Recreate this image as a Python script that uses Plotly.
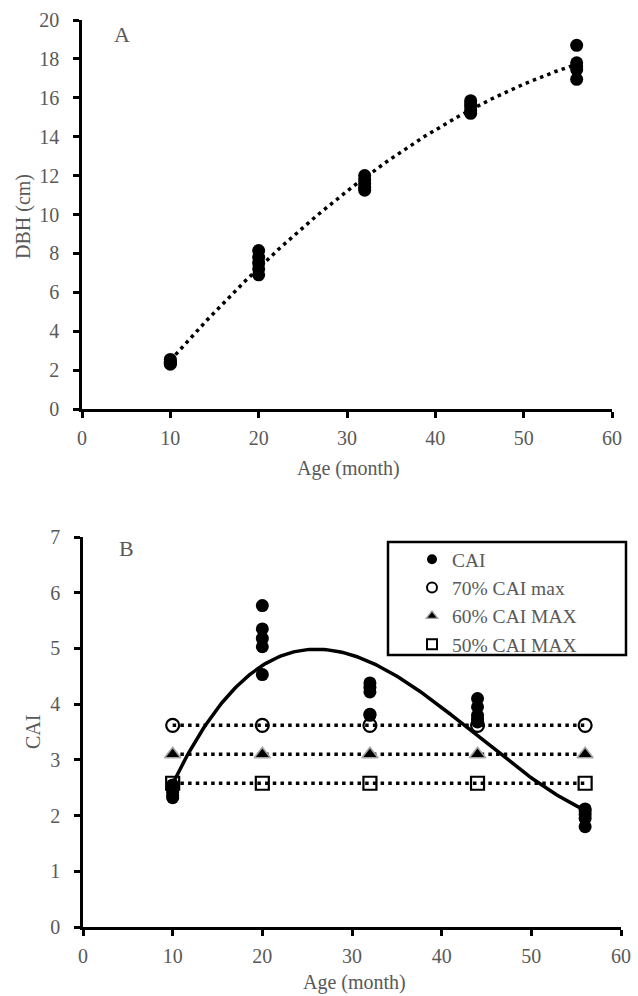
import numpy as np
import plotly.graph_objects as go

# ---------------- data ----------------
ages = [10, 20, 32, 44, 56]

dbh_age = [10]*5 + [20]*5 + [32]*5 + [44]*5 + [56]*5
dbh_vals = [2.30, 2.35, 2.40, 2.45, 2.55,
            6.90, 7.20, 7.50, 7.80, 8.15,
            11.25, 11.40, 11.60, 11.80, 12.00,
            15.20, 15.35, 15.55, 15.70, 15.85,
            16.95, 17.45, 17.60, 17.80, 18.70]

cai_age = [10]*5 + [20]*5 + [32]*5 + [44]*5 + [56]*5
cai_vals = [2.32, 2.36, 2.42, 2.48, 2.55,
            4.53, 5.03, 5.18, 5.35, 5.77,
            3.80, 3.82, 4.22, 4.30, 4.38,
            3.68, 3.73, 3.80, 3.95, 4.10,
            1.80, 1.95, 2.02, 2.08, 2.12]

cai70 = [3.62, 3.62, 3.62, 3.62, 3.62]
cai60 = [3.10, 3.10, 3.10, 3.10, 3.10]
cai50 = [2.58, 2.58, 2.58, 2.58, 2.58]

legend_names = ["CAI", "70% CAI max", "60% CAI MAX", "50% CAI MAX"]

x_ticks = [0, 10, 20, 30, 40, 50, 60]
yA_ticks = [0, 2, 4, 6, 8, 10, 12, 14, 16, 18, 20]
yB_ticks = [0, 1, 2, 3, 4, 5, 6, 7]

# trend lines (least squares, as in the spreadsheet trendlines)
pA = np.polyfit(dbh_age, dbh_vals, 2)
pB = np.polyfit(cai_age, cai_vals, 3)
xs = np.linspace(10, 56, 200)

FONT = "Liberation Serif, Times New Roman, serif"
GRAY = "#595959"
DOT = dict(color="black", width=3.5, dash="3.5px,4.2px")

M_CAI = dict(color="black", size=13)
M_70 = dict(symbol="circle-open", size=13, color="black", line=dict(width=2.2, color="black"))
M_60 = dict(symbol="triangle-up", size=14, color="black", line=dict(width=1.6, color="#a6a6a6"))
M_50 = dict(symbol="square-open", size=13, color="black", line=dict(width=2.2, color="black"))

fig = go.Figure()

# ---- panel A ----
fig.add_trace(go.Scatter(x=dbh_age, y=dbh_vals, mode="markers", marker=M_CAI,
                         xaxis="x", yaxis="y", showlegend=False))
fig.add_trace(go.Scatter(x=xs, y=np.polyval(pA, xs), mode="lines", line=DOT,
                         xaxis="x", yaxis="y", showlegend=False))

# ---- panel B ----
for vals in (cai70, cai60, cai50):
    fig.add_trace(go.Scatter(x=ages, y=vals, mode="lines", line=DOT,
                             xaxis="x2", yaxis="y2", showlegend=False))
for vals, mk in ((cai70, M_70), (cai60, M_60), (cai50, M_50)):
    fig.add_trace(go.Scatter(x=ages, y=vals, mode="markers", marker=mk,
                             xaxis="x2", yaxis="y2", showlegend=False))
fig.add_trace(go.Scatter(x=cai_age, y=cai_vals, mode="markers", marker=M_CAI,
                         xaxis="x2", yaxis="y2", showlegend=False))
fig.add_trace(go.Scatter(x=xs, y=np.polyval(pB, xs), mode="lines",
                         line=dict(color="black", width=3.5),
                         xaxis="x2", yaxis="y2", showlegend=False))

# legend entries (marker only, smaller symbols as in the reference legend)
leg_markers = [
    dict(color="black", size=10),
    dict(symbol="circle-open", size=10, color="black", line=dict(width=2, color="black")),
    dict(symbol="triangle-up", size=10, color="black", line=dict(width=1.4, color="#a6a6a6")),
    dict(symbol="square-open", size=10, color="black", line=dict(width=2, color="black")),
]
for i, (nm, mk) in enumerate(zip(legend_names, leg_markers)):
    fig.add_trace(go.Scatter(x=[None], y=[None], mode="markers", name=nm, marker=mk,
                             xaxis="x2", yaxis="y2", showlegend=True, legendrank=i + 1))

W, H = 638, 996
axcommon = dict(showgrid=False, zeroline=False, showline=True, linecolor="black",
                linewidth=2.5, ticks="outside", ticklen=6, tickwidth=2.5,
                tickcolor="black", tickfont=dict(family=FONT, size=20, color=GRAY),
                fixedrange=True, automargin=False)

def ann(text, x, y, size=20, angle=0):
    return dict(text=text, x=x/W, y=1-y/H, xref="paper", yref="paper", showarrow=False,
                xanchor="center", yanchor="middle", textangle=angle,
                font=dict(family=FONT, size=size, color=GRAY))

fig.update_layout(
    template="none",
    width=W, height=H,
    margin=dict(l=0, r=0, t=0, b=0, pad=0, autoexpand=False),
    paper_bgcolor="white", plot_bgcolor="white",
    font=dict(family=FONT, size=20, color=GRAY),
    xaxis=dict(domain=[82/W, 612/W], range=[0, 60], tickvals=x_ticks,
               anchor="y", ticklabelstandoff=3, **axcommon),
    yaxis=dict(domain=[1-409/H, 1-20/H], range=[0, 20], tickvals=yA_ticks,
               anchor="x", ticklabelstandoff=10, **axcommon),
    xaxis2=dict(domain=[83/W, 621/W], range=[0, 60], tickvals=x_ticks,
                anchor="y2", ticklabelstandoff=3, **axcommon),
    yaxis2=dict(domain=[1-927/H, 1-537/H], range=[0, 7], tickvals=yB_ticks,
                anchor="x2", ticklabelstandoff=10, **axcommon),
    legend=dict(x=412/W, y=1-540/H, xanchor="left", yanchor="top",
                bgcolor="rgba(0,0,0,0)", borderwidth=0,
                font=dict(family=FONT, size=19.5, color=GRAY),
                traceorder="normal"),
    shapes=[dict(type="rect", xref="paper", yref="paper",
                 x0=388/W, x1=626/W, y0=1-655/H, y1=1-542/H,
                 line=dict(color="black", width=2.5), fillcolor="white", layer="below")],
    annotations=[
        ann("A", 122, 35, size=22),
        ann("B", 126, 548, size=22),
        ann("DBH (cm)", 23, 217, angle=-90),
        ann("CAI", 33, 732, angle=-90),
        ann("Age (month)", 348, 468),
        ann("Age (month)", 354, 982),
    ],
)

fig.write_html("out.html")
